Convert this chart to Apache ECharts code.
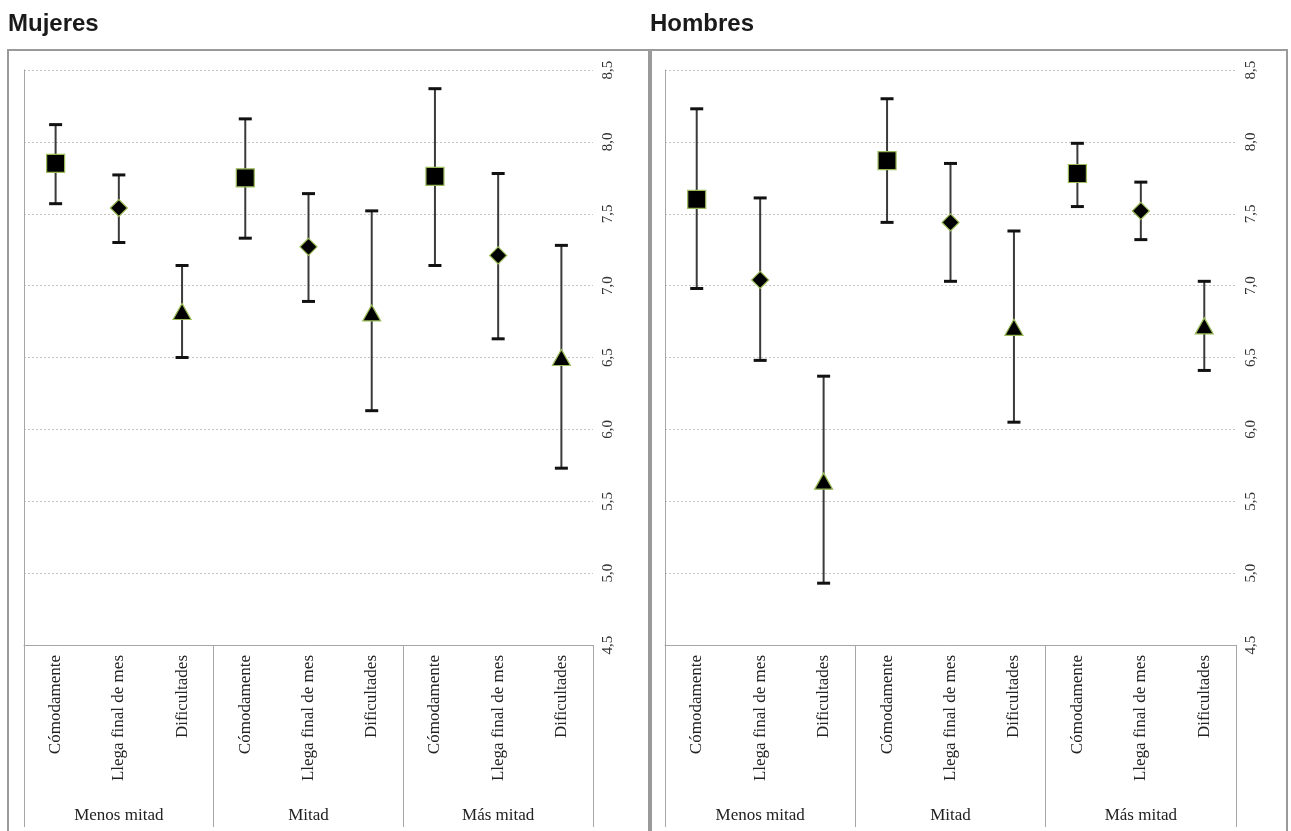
<!DOCTYPE html>
<html><head><meta charset="utf-8">
<script src="https://cdn.jsdelivr.net/npm/echarts@6/dist/echarts.min.js"></script>
<style>html,body{margin:0;padding:0;background:#fff}#c{width:1291px;height:831px}</style>
</head><body><div id="c"></div>
<script>
// ---- data ----
const categories = ['Cómodamente','Llega final de mes','Dificultades',
                    'Cómodamente','Llega final de mes','Dificultades',
                    'Cómodamente','Llega final de mes','Dificultades'];
const groups = ['Menos mitad','Mitad','Más mitad'];
const panelTitles = ['Mujeres','Hombres'];
const yMin = 4.5, yMax = 8.5, yStep = 0.5;

const mujeresMean = [7.85, 7.54, 6.82, 7.75, 7.27, 6.81, 7.76, 7.21, 6.50];
const mujeresLow  = [7.57, 7.30, 6.50, 7.33, 6.89, 6.13, 7.14, 6.63, 5.73];
const mujeresHigh = [8.12, 7.77, 7.14, 8.16, 7.64, 7.52, 8.37, 7.78, 7.28];

const hombresMean = [7.60, 7.04, 5.64, 7.87, 7.44, 6.71, 7.78, 7.52, 6.72];
const hombresLow  = [6.98, 6.48, 4.93, 7.44, 7.03, 6.05, 7.55, 7.32, 6.41];
const hombresHigh = [8.23, 7.61, 6.37, 8.30, 7.85, 7.38, 7.99, 7.72, 7.03];

const symbolTypes = ['rect','diamond','triangle'];
const symbolSizes = [[18,18],[17,17],[18,16]];

// ---- layout ----
const grids = [
  {left: 24, top: 70, width: 569, height: 575},
  {left: 665, top: 70, width: 571, height: 575}
];
const frames = [[8, 50, 641, 800], [651, 50, 636, 800]];
const titleLeft = [8, 650];

const chart = echarts.init(document.getElementById('c'), null, {renderer: 'canvas'});

const xAxes = [], yAxes = [], series = [], titles = [], graphics = [];
const panels = [
  {mean: mujeresMean, low: mujeresLow, high: mujeresHigh},
  {mean: hombresMean, low: hombresLow, high: hombresHigh}
];
const serif = 'Liberation Serif';
const axisGray = '#a6a6a6';

panels.forEach((p, g) => {
  titles.push({text: panelTitles[g], left: titleLeft[g], top: 12, padding: 0,
    textStyle: {fontFamily: 'Liberation Sans', fontWeight: 'bold', fontSize: 24, color: '#1a1a1a'}});
  graphics.push({type: 'rect', shape: {x: frames[g][0], y: frames[g][1], width: frames[g][2], height: frames[g][3]},
    style: {fill: 'none', stroke: '#9a9a9a', lineWidth: 2}, z: -1});
  // category axis (9 items)
  xAxes.push({gridIndex: g, type: 'category', data: categories, position: 'bottom',
    axisLine: {show: true, lineStyle: {color: axisGray, width: 1}},
    axisTick: {show: false},
    axisLabel: {interval: 0, rotate: 90, margin: 10, fontFamily: serif, fontSize: 17, color: '#222'}});
  // group axis (3 items) -> separators + group labels
  xAxes.push({gridIndex: g, type: 'category', data: groups, position: 'bottom',
    axisLine: {show: false},
    axisTick: {show: true, length: 182, lineStyle: {color: axisGray, width: 1}},
    axisLabel: {interval: 0, margin: 162, fontFamily: serif, fontSize: 17, color: '#222'}});
  // value axis on the right (labels + grid)
  yAxes.push({gridIndex: g, type: 'value', position: 'right', min: yMin, max: yMax, interval: yStep,
    axisLine: {show: false}, axisTick: {show: false},
    splitLine: {show: true, lineStyle: {color: '#c4c4c4', type: [2, 2], width: 1}},
    axisLabel: {rotate: 90, margin: 8, fontFamily: serif, fontSize: 15, color: '#333',
      formatter: v => v.toFixed(1).replace('.', ',')}});
  // plain left line
  yAxes.push({gridIndex: g, type: 'value', position: 'left', min: yMin, max: yMax, interval: yStep,
    axisLine: {show: true, lineStyle: {color: axisGray, width: 1}}, axisTick: {show: false},
    axisLabel: {show: false}, splitLine: {show: false}});

  const errData = p.mean.map((m, i) => [i, p.low[i], p.high[i]]);
  series.push({type: 'custom', xAxisIndex: g * 2, yAxisIndex: g * 2, data: errData,
    encode: {x: 0, y: [1, 2]}, z: 2,
    renderItem: (params, api) => {
      const x = api.value(0);
      const lo = api.coord([x, api.value(1)]);
      const hi = api.coord([x, api.value(2)]);
      const w = 13;
      return {type: 'group', children: [
        {type: 'line', shape: {x1: lo[0], y1: lo[1], x2: hi[0], y2: hi[1]}, style: {stroke: '#3a3a3a', lineWidth: 2}},
        {type: 'line', shape: {x1: lo[0] - w / 2, y1: lo[1], x2: lo[0] + w / 2, y2: lo[1]}, style: {stroke: '#111', lineWidth: 3}},
        {type: 'line', shape: {x1: hi[0] - w / 2, y1: hi[1], x2: hi[0] + w / 2, y2: hi[1]}, style: {stroke: '#111', lineWidth: 3}}
      ]};
    }});
  series.push({type: 'scatter', xAxisIndex: g * 2, yAxisIndex: g * 2, z: 5,
    data: p.mean.map((m, i) => ({value: [i, m], symbol: symbolTypes[i % 3], symbolSize: symbolSizes[i % 3]})),
    itemStyle: {color: '#000', borderColor: '#9bbb59', borderWidth: 1.2, opacity: 1}});
});

chart.setOption({
  backgroundColor: '#fff',
  animation: false,
  title: titles,
  grid: grids,
  xAxis: xAxes,
  yAxis: yAxes,
  series: series,
  graphic: graphics
});
</script></body></html>
